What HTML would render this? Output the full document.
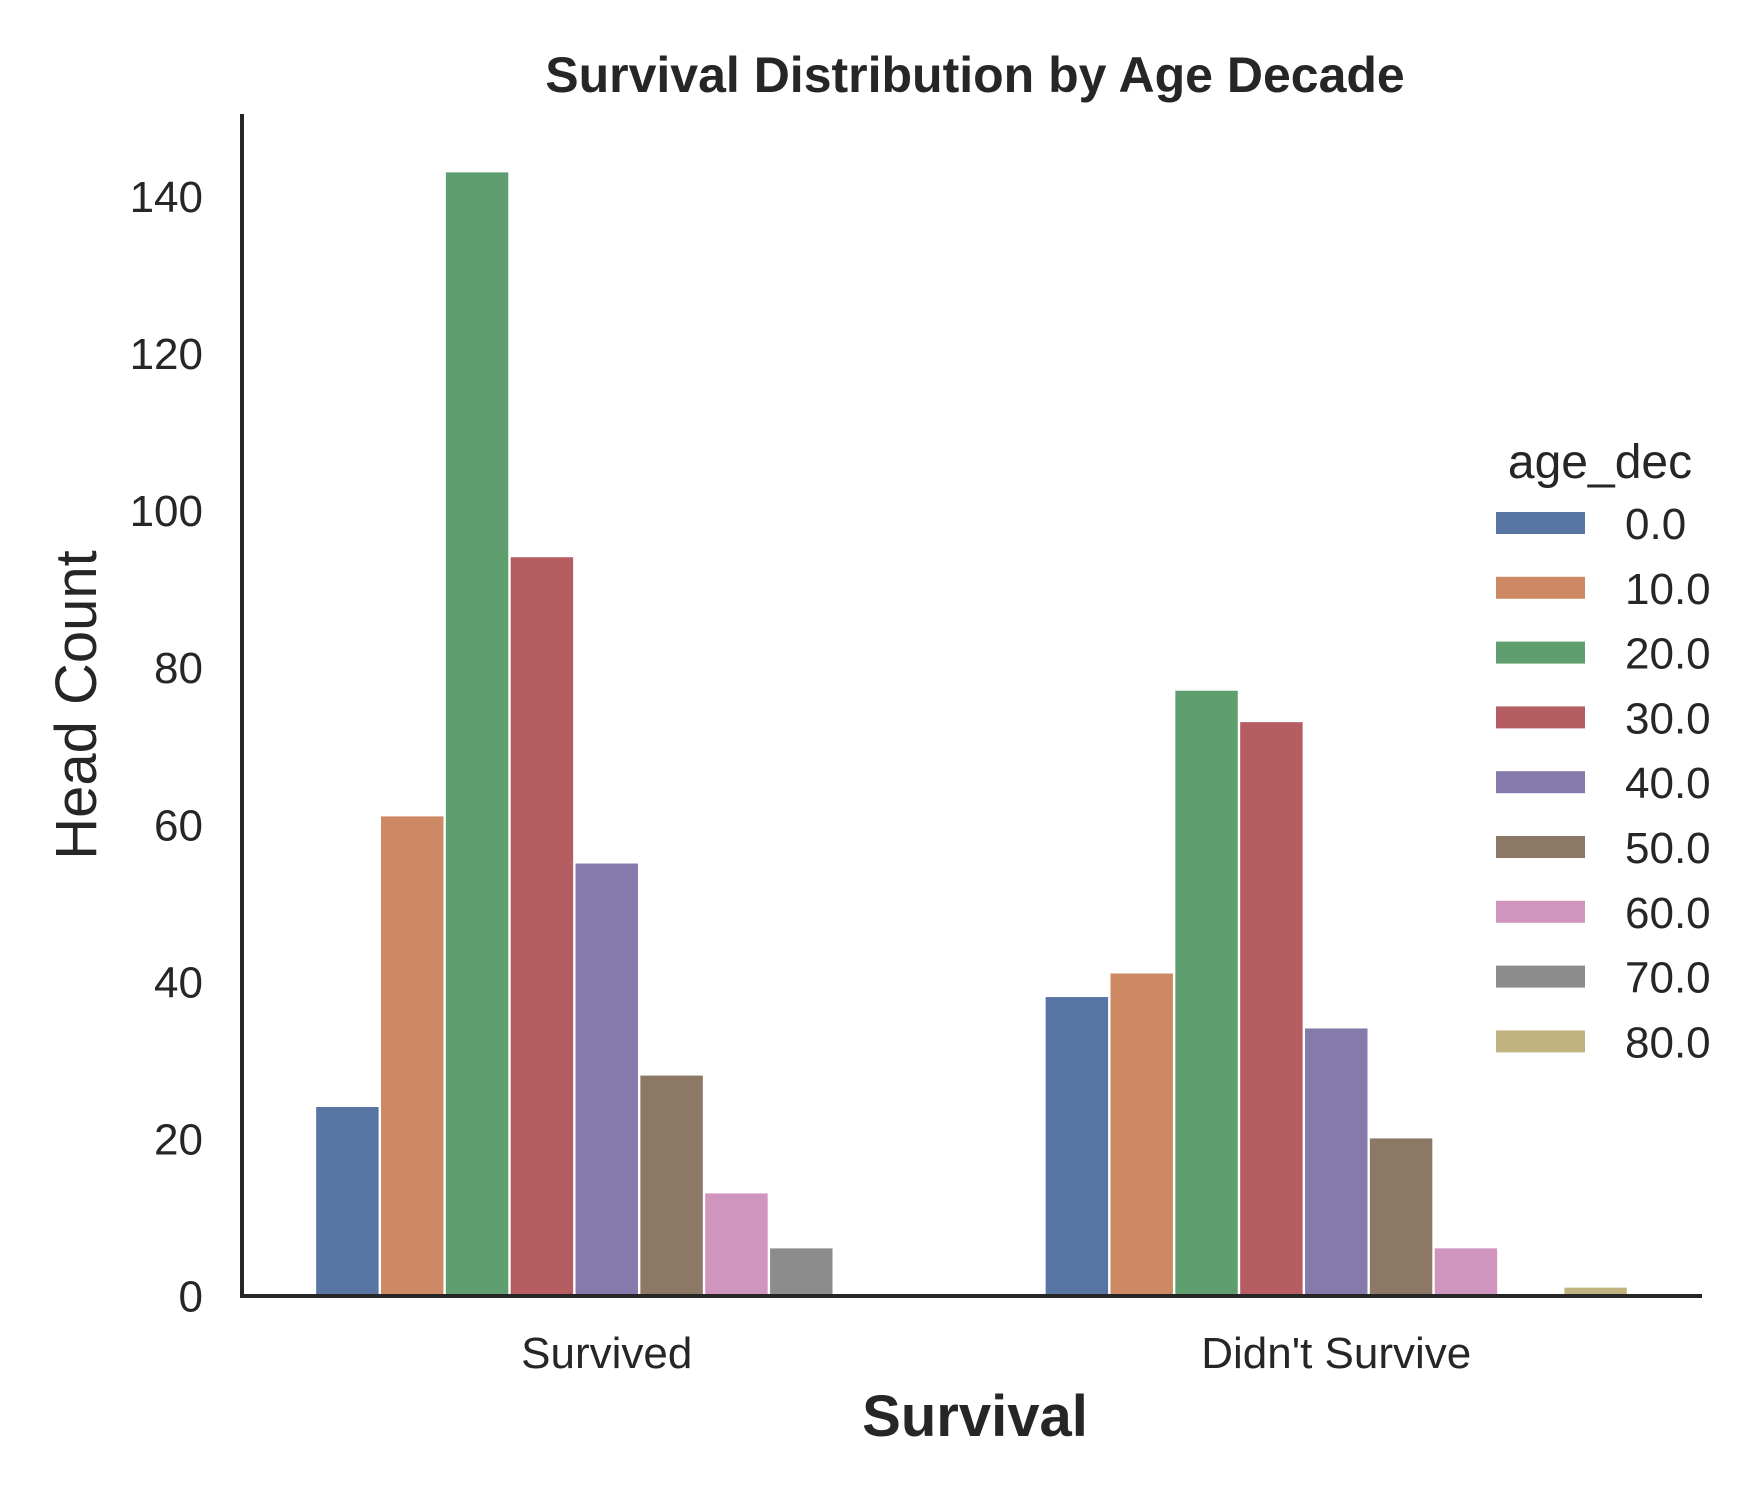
<!DOCTYPE html>
<html><head><meta charset="utf-8"><style>
html,body{margin:0;padding:0;background:#fff}
svg{display:block;font-family:"Liberation Sans",Arial,sans-serif}
</style></head><body>
<svg id="chart" width="1754" height="1500" viewBox="0 0 1754 1500">
<text x="975" y="92" text-anchor="middle" font-size="50" font-weight="bold" fill="#262626">Survival Distribution by Age Decade</text>
<g id="bars"></g>
<g id="yticks"></g>
<g id="xticks"></g>
<line x1="242" y1="114" x2="242" y2="1298" stroke="#262626" stroke-width="4"/>
<line x1="240" y1="1296" x2="1702" y2="1296" stroke="#262626" stroke-width="4"/>
<text transform="translate(96,705) rotate(-90)" text-anchor="middle" font-size="58" fill="#262626">Head Count</text>
<text x="975" y="1436" text-anchor="middle" font-size="58" font-weight="bold" fill="#262626">Survival</text>
<g id="legend">
<text x="1600" y="478" text-anchor="middle" font-size="48" fill="#262626">age_dec</text>
</g>
</svg>
<script>
const categories = ["Survived", "Didn't Survive"];
const hueLabels = ["0.0","10.0","20.0","30.0","40.0","50.0","60.0","70.0","80.0"];
const survivedValues = [24,61,143,94,55,28,13,6,0];
const diedValues = [38,41,77,73,34,20,6,0,1];
const yTicks = [0,20,40,60,80,100,120,140];
const colors = ["#5875a4","#cc8963","#5f9e6e","#b55d60","#857aab","#8d7866","#d095bf","#8c8c8c","#c1b37f"];
const series = [survivedValues, diedValues];
const NS = "http://www.w3.org/2000/svg";
const x0 = 242, x1 = 1701, y0 = 1295.5, yPer = 7.854;
function xScale(v){ return x0 + (v + 0.5) * (x1 - x0) / 2; }
function yScale(v){ return y0 - v * yPer; }
const bw = 0.8 / hueLabels.length;
const barsG = document.getElementById('bars');
series.forEach((vals, ci) => {
  vals.forEach((v, hi) => {
    const left = xScale(ci - 0.4 + hi * bw);
    const right = xScale(ci - 0.4 + (hi + 1) * bw);
    const r = document.createElementNS(NS, 'rect');
    r.setAttribute('x', left + 1.2);
    r.setAttribute('width', right - left - 2.4);
    r.setAttribute('y', yScale(v));
    r.setAttribute('height', y0 - yScale(v));
    r.setAttribute('fill', colors[hi]);
    
    
    barsG.appendChild(r);
  });
});
const yG = document.getElementById('yticks');
yTicks.forEach(t => {
  const tx = document.createElementNS(NS, 'text');
  tx.setAttribute('x', 203);
  tx.setAttribute('y', yScale(t) + 16);
  tx.setAttribute('text-anchor', 'end');
  tx.setAttribute('font-size', '44');
  tx.setAttribute('fill', '#262626');
  tx.textContent = t;
  
  
  yG.appendChild(tx);
});
const xG = document.getElementById('xticks');
categories.forEach((c, i) => {
  const tx = document.createElementNS(NS, 'text');
  tx.setAttribute('x', xScale(i));
  tx.setAttribute('y', 1368);
  tx.setAttribute('text-anchor', 'middle');
  tx.setAttribute('font-size', '44');
  tx.setAttribute('fill', '#262626');
  tx.textContent = c;
  
  
  xG.appendChild(tx);
});
const lg = document.getElementById('legend');
hueLabels.forEach((h, i) => {
  const cy = 523 + i * 64.8;
  const g = document.createElementNS(NS, 'g');
  
  
  const r = document.createElementNS(NS, 'rect');
  r.setAttribute('x', 1496); r.setAttribute('y', cy - 11);
  r.setAttribute('width', 89); r.setAttribute('height', 22);
  r.setAttribute('fill', colors[i]);
  
  
  const t = document.createElementNS(NS, 'text');
  t.setAttribute('x', 1625); t.setAttribute('y', cy + 16);
  t.setAttribute('font-size', '44'); t.setAttribute('fill', '#262626');
  t.textContent = h;
  
  
  g.appendChild(r); g.appendChild(t); lg.appendChild(g);
});
</script>
</body></html>
